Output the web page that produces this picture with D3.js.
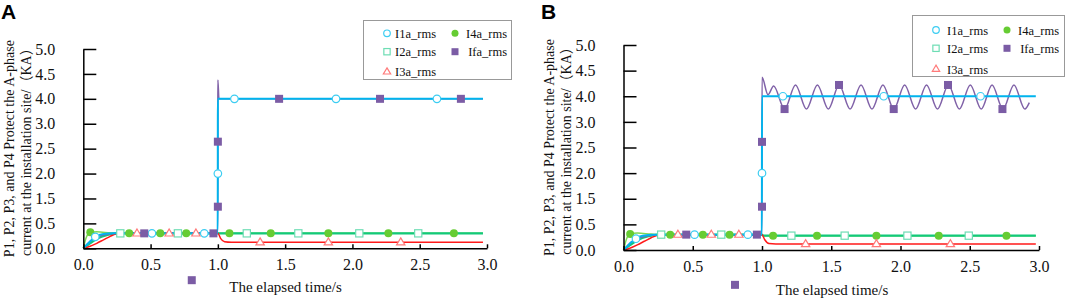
<!DOCTYPE html>
<html><head><meta charset="utf-8">
<script src="https://cdn.jsdelivr.net/npm/d3@7"></script>
<style>body{margin:0;background:#fff}svg{display:block}</style>
</head><body><svg id="c" width="1065" height="300"></svg>
<script>
// ---------- data ----------
const yTickValues = [0, 0.5, 1.5, 2.0, 2.5, 3.0, 4.0, 4.5, 5.0];
const xTickValues = [0, 0.5, 1.0, 1.5, 2.0, 2.5, 3.0];
const seriesNames = ["I1a_rms", "I2a_rms", "I3a_rms", "I4a_rms", "Ifa_rms"];
const xTitle = "The elapsed time/s";
const yTitle1 = "P1, P2, P3, and P4 Protect the A-phase";
const yTitle2 = "current at the installation site/（KA）";

// Panel A lines [t, value]
const aI1aLine = [[0,0],[0.03,0.08],[0.06,0.16],[0.09,0.23],[0.14,0.28],[0.22,0.3],[0.999,0.3],[1.0,4.0],[2.97,4.0]];
const aI2aLine = [[0,0],[0.05,0.1],[0.1,0.19],[0.18,0.27],[0.26,0.3],[2.97,0.3]];
const aI3aLine = [[0,0],[0.05,0.04],[0.1,0.1],[0.15,0.17],[0.2,0.24],[0.27,0.3],[1.0,0.3],[1.02,0.2],[1.05,0.13],[1.1,0.12],[2.97,0.12]];
const aI4aLine = [[0,0],[0.02,0.2],[0.05,0.32],[0.1,0.33],[0.2,0.31],[0.28,0.3],[2.97,0.3]];
const aIfaLine = [[0,0],[0.05,0.14],[0.1,0.22],[0.2,0.29],[0.25,0.3],[0.999,0.3],[1.0,4.38],[1.008,4.0],[2.97,4.0]];

// Panel A markers
const aI1aPts = [[0.089,0.23],[0.51,0.3],[0.899,0.3],[1.0,2.0],[1.123,4.0],[1.878,4.0],[2.628,4.0]];
const aI2aPts = [[0.275,0.3],[0.703,0.3],[1.215,0.3],[1.598,0.3],[2.051,0.3],[2.489,0.3]];
const aI3aPts = [[0.399,0.3],[0.638,0.3],[0.837,0.3],[1.314,0.12],[1.821,0.12],[2.359,0.12]];
const aI4aPts = [[0.052,0.32],[0.341,0.3],[0.572,0.3],[0.765,0.3],[1.086,0.3],[1.393,0.3],[1.821,0.3],[2.267,0.3],[2.754,0.3]];
const aIfaPts = [[0.453,0.3],[0.967,0.3],[1.0,1.17],[1.0,2.64],[1.455,4.0],[2.205,4.0],[2.806,4.0]];
const aStray = [[0.806,-0.64]];

// Panel B lines
const bI1aLine = [[0,0],[0.03,0.08],[0.06,0.16],[0.09,0.23],[0.14,0.28],[0.22,0.3],[0.999,0.3],[1.0,4.0],[2.977,4.0]];
const bI2aLine = [[0,0],[0.05,0.1],[0.1,0.19],[0.18,0.27],[0.26,0.3],[1.0,0.3],[1.01,0.28],[2.977,0.28]];
const bI3aLine = [[0,0],[0.05,0.04],[0.1,0.1],[0.15,0.17],[0.2,0.24],[0.27,0.3],[1.0,0.3],[1.02,0.2],[1.05,0.125],[1.1,0.117],[2.977,0.117]];
const bI4aLine = [[0,0],[0.02,0.2],[0.05,0.32],[0.1,0.33],[0.2,0.31],[0.28,0.3],[1.0,0.3],[1.01,0.28],[2.977,0.28]];
const bIfaTimes  = [0,0.05,0.1,0.2,0.25,0.999,1.0,1.043,1.084,1.163,1.242,1.321,1.400,1.479,1.557,1.636,1.715,1.794,1.873,1.952,2.030,2.109,2.188,2.267,2.346,2.425,2.504,2.583,2.661,2.740,2.819,2.898,2.93];
const bIfaValues = [0,0.14,0.22,0.29,0.3,0.3,4.37,4.03,4.2,3.5,4.22,3.5,4.22,3.5,4.22,3.5,4.22,3.5,4.22,3.5,4.22,3.5,4.22,3.5,4.22,3.5,4.22,3.5,4.22,3.5,4.22,3.5,3.75];
const bIfaLine = bIfaTimes.map((t,i)=>[t,bIfaValues[i]]);

// Panel B markers
const bI1aPts = [[0.09,0.22],[0.513,0.3],[0.898,0.3],[1.0,2.0],[1.151,4.0],[1.879,4.0],[2.578,4.0]];
const bI2aPts = [[0.272,0.3],[0.706,0.3],[1.212,0.28],[1.597,0.28],[2.05,0.28],[2.493,0.28]];
const bI3aPts = [[0.393,0.3],[0.634,0.3],[0.833,0.3],[1.315,0.117],[1.826,0.117],[2.36,0.117]];
const bI4aPts = [[0.048,0.31],[0.337,0.3],[0.573,0.3],[0.766,0.3],[1.08,0.28],[1.397,0.28],[1.826,0.28],[2.276,0.28],[2.765,0.28]];
const bIfaPts = [[0.453,0.3],[0.963,0.3],[1.0,1.19],[1.0,2.61],[1.163,3.5],[1.556,4.22],[1.951,3.5],[2.343,4.22],[2.736,3.5]];
const bStray = [[0.805,-0.68]];

// ---------- styles ----------
const style = {
  "I1a_rms": {line:"#00B4EE", w:2,   shape:"circle",   fill:"#fff",    stroke:"#3CCDF2"},
  "I2a_rms": {line:"#12C97A", w:2.2, shape:"square",   fill:"#fff",    stroke:"#6EDDB4"},
  "I3a_rms": {line:"#FF1A1A", w:1.5, shape:"triangle", fill:"#fff",    stroke:"#FF7A7A"},
  "I4a_rms": {line:"#7ED957", w:1.5, shape:"dot",      fill:"#66CC33", stroke:"#66CC33"},
  "Ifa_rms": {line:"#8062A8", w:1.5, shape:"square",   fill:"#7B5CA5", stroke:"#7B5CA5"}
};
const serif = "'Liberation Serif', 'Times New Roman', serif";
const serifCJK = "'Liberation Serif', 'Times New Roman', 'Noto Sans CJK SC', serif";

const svg = d3.select("#c");

function marker(g, name, x, y, sz) {
  const s = style[name];
  const filled = s.shape === "dot" || name === "Ifa_rms";
  if (s.shape === "circle" || s.shape === "dot") {
    g.append("circle").attr("cx",x).attr("cy",y).attr("r", filled ? sz*0.5 : sz*0.47)
      .attr("fill", s.fill).attr("stroke", s.stroke).attr("stroke-width", filled?0:1.2);
  } else if (s.shape === "square") {
    const h = filled ? sz*0.5 : sz*0.45;
    g.append("rect").attr("x",x-h).attr("y",y-h).attr("width",2*h).attr("height",2*h)
      .attr("fill", s.fill).attr("stroke", s.stroke).attr("stroke-width", filled?0:1.2);
  } else {
    const r = sz*0.55;
    g.append("path").attr("d", `M${x},${y-r}L${x+r*0.95},${y+r*0.6}L${x-r*0.95},${y+r*0.6}Z`)
      .attr("fill", s.fill).attr("stroke", s.stroke).attr("stroke-width",1.2);
  }
}

function panel(cfg) {
  const x = d3.scaleLinear().domain([0,3]).range([cfg.x0, cfg.x1]);
  const step = (cfg.yBot - cfg.yTop) / (yTickValues.length - 1);
  const y = d3.scaleLinear().domain(yTickValues).range(yTickValues.map((v,i)=>cfg.yBot - i*step));
  const g = svg.append("g");

  // lines
  const line = d3.line().x(d=>x(d[0])).y(d=>y(d[1])).curve(d3.curveMonotoneX);
  const order = ["I4a_rms","I2a_rms","I3a_rms","Ifa_rms","I1a_rms"];
  order.forEach(n=>{
    g.append("path").attr("d", line(cfg.lines[n])).attr("fill","none")
      .attr("stroke", style[n].line).attr("stroke-width", style[n].w)
      .attr("stroke-linejoin","round");
  });

  // axes
  const xa = g.append("g").attr("transform",`translate(0,${cfg.yBot})`)
    .call(d3.axisBottom(x).tickValues(xTickValues).tickFormat(d3.format(".1f"))
      .tickSizeInner(-4).tickSizeOuter(0).tickPadding(cfg.xPad));
  const ya = g.append("g").attr("transform",`translate(${cfg.x0},0)`)
    .call(d3.axisLeft(y).tickValues(yTickValues).tickFormat(d3.format(".1f"))
      .tickSizeInner(-13).tickSizeOuter(0).tickPadding(28));
  [xa,ya].forEach(a=>{
    a.attr("font-family", null).attr("font-size", null);
    a.selectAll("path,line").attr("stroke","#000").attr("stroke-width",1.5);
    a.selectAll("text").style("font-family",serif).style("font-size","16px").attr("fill","#111");
  });

  // markers
  const mg = g.append("g");
  const mOrder = ["I4a_rms","I2a_rms","I3a_rms","I1a_rms","Ifa_rms"];
  mOrder.forEach(n=>{
    cfg.pts[n].forEach(p=>marker(mg, n, x(p[0]), y(p[1]), 8));
  });
  cfg.stray.forEach(p=>marker(mg, "Ifa_rms", x(p[0]), y(p[1]), 8));

  // x title
  g.append("text").attr("x", cfg.xtX).attr("y", cfg.xtY).attr("text-anchor","middle")
    .style("font-family",serif).style("font-size","15px").attr("fill","#111").text(xTitle);

  // y title
  const yc = (cfg.yTop + cfg.yBot)/2;
  [[yTitle1, cfg.lab1],[yTitle2, cfg.lab2]].forEach(([t,lx])=>{
    g.append("text").attr("transform",`translate(${lx},${yc}) rotate(-90)`)
      .attr("text-anchor","middle").style("font-family",serifCJK)
      .style("font-size","14px").attr("fill","#111").text(t);
  });

  // panel letter
  g.append("text").attr("x",cfg.letterX).attr("y",19).style("font-family","'Liberation Sans', Arial, sans-serif")
    .style("font-weight","bold").style("font-size","21px").attr("fill","#000").text(cfg.letter);

  // legend
  const L = cfg.leg;
  g.append("rect").attr("x",L.x).attr("y",L.y).attr("width",L.w).attr("height",L.h)
    .attr("fill","#fff").attr("stroke","#999").attr("stroke-width",1);
  const pos = {"I1a_rms":[0,0],"I2a_rms":[0,1],"I3a_rms":[0,2],"I4a_rms":[1,0],"Ifa_rms":[1,1]};
  seriesNames.forEach(n=>{
    const [c,r] = pos[n];
    marker(g, n, L.sym[c], L.rows[r], 7);
    g.append("text").attr("x", L.txtEnd[c]).attr("y", L.rows[r]+4.5).attr("text-anchor","end")
      .style("font-family",serif).style("font-size","12.5px").attr("fill","#111").text(n);
  });
}

panel({
  letter:"A", letterX:1,
  x0:83.3, x1:487, yTop:49, yBot:248.3, xPad:10,
  xtX:285.5, xtY:292, lab1:13.5, lab2:31,
  lines:{"I1a_rms":aI1aLine,"I2a_rms":aI2aLine,"I3a_rms":aI3aLine,"I4a_rms":aI4aLine,"Ifa_rms":aIfaLine},
  pts:{"I1a_rms":aI1aPts,"I2a_rms":aI2aPts,"I3a_rms":aI3aPts,"I4a_rms":aI4aPts,"Ifa_rms":aIfaPts},
  stray:aStray,
  leg:{x:363.5,y:20.5,w:148,h:59,sym:[387,455],txtEnd:[436,507],rows:[33.3,51.7,71.7]}
});
panel({
  letter:"B", letterX:541,
  x0:623.5, x1:1039, yTop:45, yBot:250, xPad:11,
  xtX:832, xtY:294.5, lab1:553.5, lab2:571,
  lines:{"I1a_rms":bI1aLine,"I2a_rms":bI2aLine,"I3a_rms":bI3aLine,"I4a_rms":bI4aLine,"Ifa_rms":bIfaLine},
  pts:{"I1a_rms":bI1aPts,"I2a_rms":bI2aPts,"I3a_rms":bI3aPts,"I4a_rms":bI4aPts,"Ifa_rms":bIfaPts},
  stray:bStray,
  leg:{x:912.5,y:15.5,w:152,h:61,sym:[936,1007],txtEnd:[988,1059],rows:[30,48.3,69]}
});
</script></body></html>
